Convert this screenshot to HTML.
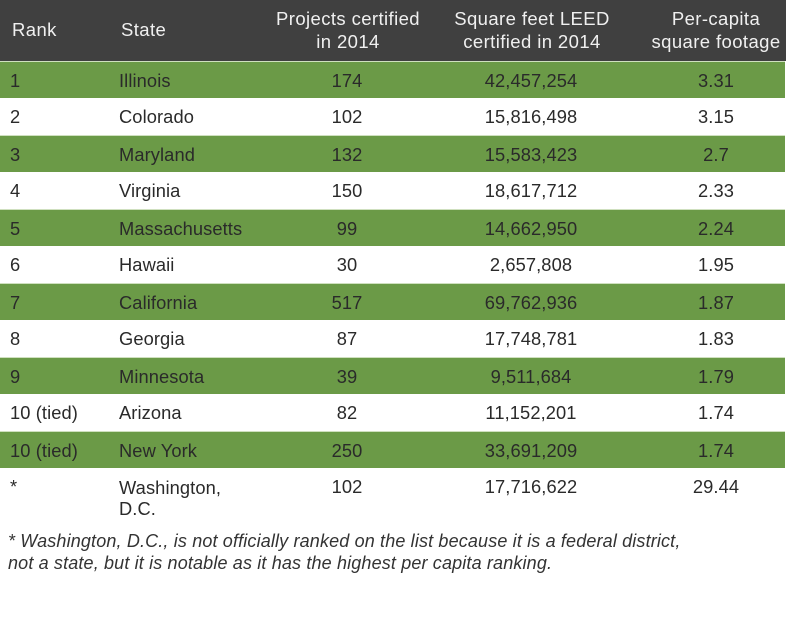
<!DOCTYPE html>
<html><head><meta charset="utf-8"><style>
body{margin:0;width:786px;height:624px;background:#fff;font-family:"Liberation Sans",sans-serif;overflow:hidden;position:relative;color:#2a2a2a}
.hd{position:absolute;left:0;top:0;width:786px;height:61px;background:#404040;color:#f0f0f0;font-size:18.5px;letter-spacing:0.4px}
.r{position:absolute;left:0;width:785px;height:37px;font-size:18.3px;letter-spacing:0.1px}
.g{background:#6b9a47;border-top:1px solid #cfe0bf;box-sizing:border-box}
.c{position:absolute;line-height:37px;white-space:nowrap}
.hd .c{line-height:23px}
.ct{transform:translateX(-50%);text-align:center}
.fn{position:absolute;left:8px;top:530px;font-size:18px;font-style:italic;line-height:22px;color:#333;letter-spacing:0.15px}
</style></head><body>
<div class="hd">
<div class="c" style="left:12px;top:18px">Rank</div>
<div class="c" style="left:121px;top:18px">State</div>
<div class="c ct" style="left:348px;top:7px">Projects certified<br>in 2014</div>
<div class="c ct" style="left:532px;top:7px">Square feet LEED<br>certified in 2014</div>
<div class="c ct" style="left:716px;top:7px">Per-capita<br>square footage</div>
</div>
<div id="rows"></div>
<div class="r" style="top:468px;height:62px">
<div class="c" style="left:10px">*</div>
<div class="c" style="left:119px;line-height:21px;top:9px">Washington,<br>D.C.</div>
<div class="c ct" style="left:347px">102</div>
<div class="c ct" style="left:531px">17,716,622</div>
<div class="c ct" style="left:716px">29.44</div>
</div>
<div class="fn">* Washington, D.C., is not officially ranked on the list because it is a federal district,<br>not a state, but it is notable as it has the highest per capita ranking.</div>
<script>
var d=[["1","Illinois","174","42,457,254","3.31"],["2","Colorado","102","15,816,498","3.15"],["3","Maryland","132","15,583,423","2.7"],["4","Virginia","150","18,617,712","2.33"],["5","Massachusetts","99","14,662,950","2.24"],["6","Hawaii","30","2,657,808","1.95"],["7","California","517","69,762,936","1.87"],["8","Georgia","87","17,748,781","1.83"],["9","Minnesota","39","9,511,684","1.79"],["10 (tied)","Arizona","82","11,152,201","1.74"],["10 (tied)","New York","250","33,691,209","1.74"]];
var h="";d.forEach(function(r,i){h+='<div class="r'+(i%2==0?' g':'')+'" style="top:'+(61+i*37)+'px"><div class="c" style="left:10px">'+r[0]+'</div><div class="c" style="left:119px">'+r[1]+'</div><div class="c ct" style="left:347px">'+r[2]+'</div><div class="c ct" style="left:531px">'+r[3]+'</div><div class="c ct" style="left:716px">'+r[4]+'</div></div>';});
document.getElementById("rows").innerHTML=h;
</script>
</body></html>
